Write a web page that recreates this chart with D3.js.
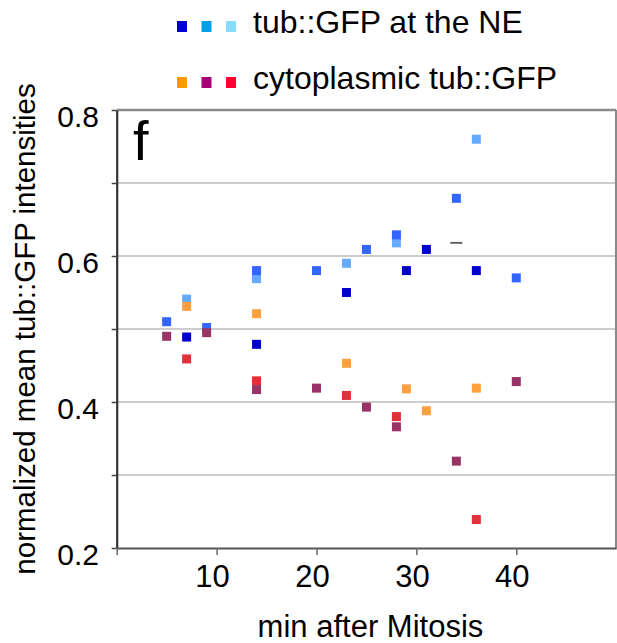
<!DOCTYPE html>
<html>
<head>
<meta charset="utf-8">
<script src="https://cdn.jsdelivr.net/npm/d3@7"></script>
<style>
  html, body { margin: 0; padding: 0; background: #fff; }
  svg { display: block; }
  text { font-family: "Liberation Sans", Arial, Helvetica, sans-serif; fill: #000; }
</style>
</head>
<body>
<svg id="chart" width="617" height="643"></svg>
<script>
// ---- data (minutes after mitosis, normalized mean intensity) ----
const neDarkBlue  = [[7,0.489],[14,0.479],[23,0.550],[29,0.580],[31,0.609],[36,0.580]];
const neMedBlue   = [[5,0.510],[9,0.502],[14,0.580],[20,0.580],[25,0.609],[28,0.629],[34,0.679],[40,0.570]];
const neLightBlue = [[7,0.541],[14,0.569],[23,0.590],[28,0.618],[36,0.760]];
const cytoOrange  = [[7,0.531],[14,0.521],[23,0.453],[29,0.418],[31,0.388],[36,0.419]];
const cytoRed     = [[7,0.459],[14,0.429],[23,0.409],[28,0.380],[36,0.239]];
const cytoPurple  = [[5,0.490],[9,0.495],[14,0.417],[20,0.419],[25,0.393],[28,0.366],[34,0.319],[40,0.428]];
const dashMarks   = [[34,0.618]];

const seriesNames  = ["neLightBlue","neMedBlue","neDarkBlue","cytoOrange","cytoRed","cytoPurple"];
const seriesData   = [neLightBlue, neMedBlue, neDarkBlue, cytoOrange, cytoRed, cytoPurple];
const seriesColors = ["#66AAFF","#3366FF","#0000CC","#FFA040","#E0303A","#993366"];

const legendLabels = ["tub::GFP at the NE", "cytoplasmic tub::GFP"];
const legendColors = [["#0000CC","#00A0E8","#88DDFF"],["#FF9900","#AA0077","#FF0033"]];

const xTicks      = [0,10,20,30,40];
const xTickLabels = [10,20,30,40];
const yTicks      = [0.2,0.3,0.4,0.5,0.6,0.7,0.8];
const yTickLabels = [0.2,0.4,0.6,0.8];
const yGrid       = [0.3,0.4,0.5,0.6,0.7];

const xTitle = "min after Mitosis";
const yTitle = "normalized mean tub::GFP intensities";
const panelLabel = "f";

// ---- layout ----
const svg = d3.select("#chart");
const pL = 116.7, pR = 616.2, pT = 110, pB = 548;
const x = d3.scaleLinear().domain([0,50]).range([pL, pR]);
const y = d3.scaleLinear().domain([0.2,0.8]).range([pB, pT]);

// gridlines
svg.append("g").selectAll("line").data(yGrid).join("line")
  .attr("x1", pL).attr("x2", pR)
  .attr("y1", d => y(d)).attr("y2", d => y(d))
  .attr("stroke", "#bdbdbd").attr("stroke-width", 1.6);

// frame top & right
svg.append("line").attr("x1", pL).attr("x2", pR).attr("y1", pT).attr("y2", pT)
  .attr("stroke", "#8a8a8a").attr("stroke-width", 2.5);
svg.append("line").attr("x1", pR).attr("x2", pR).attr("y1", pT).attr("y2", pB)
  .attr("stroke", "#8a8a8a").attr("stroke-width", 2.5);

// y axis
const yAxis = svg.append("g").attr("transform", `translate(${pL},0)`)
  .call(d3.axisLeft(y).tickValues(yTicks).tickSize(5).tickSizeOuter(0).tickFormat(""));
yAxis.select(".domain").attr("stroke", "#333").attr("stroke-width", 2.2);
yAxis.selectAll(".tick line").attr("stroke", "#444").attr("stroke-width", 1.5);

svg.append("g").selectAll("text").data(yTickLabels).join("text")
  .attr("x", 99).attr("y", d => y(d) + 17)
  .attr("text-anchor", "end").attr("font-size", 30)
  .text(d => d3.format(".1f")(d));

// x axis
const xAxis = svg.append("g").attr("transform", `translate(0,${pB})`)
  .call(d3.axisBottom(x).tickValues(xTicks).tickSize(7).tickSizeOuter(0).tickFormat(""));
xAxis.select(".domain").attr("stroke", "#555").attr("stroke-width", 2.2);
xAxis.selectAll(".tick line").attr("stroke", "#666").attr("stroke-width", 1.5);

svg.append("g").selectAll("text").data(xTickLabels).join("text")
  .attr("x", d => x(d) - 4).attr("y", 587)
  .attr("text-anchor", "middle").attr("font-size", 31)
  .text(d => d);

// axis titles
svg.append("text").attr("x", (pL + pR) / 2 + 4).attr("y", 637)
  .attr("text-anchor", "middle").attr("font-size", 31).text(xTitle);
svg.append("text").attr("transform", "translate(35,329) rotate(-90)")
  .attr("text-anchor", "middle").attr("font-size", 29.5).text(yTitle);

// panel label
svg.append("text").attr("x", 133).attr("y", 160).attr("font-size", 56).text(panelLabel);

// data markers
const ms = 9;
seriesData.forEach((data, i) => {
  svg.append("g").attr("class", seriesNames[i]).selectAll("rect").data(data).join("rect")
    .attr("x", d => x(d[0]) - ms / 2).attr("y", d => y(d[1]) - ms / 2)
    .attr("width", ms).attr("height", ms)
    .attr("fill", seriesColors[i]);
});
svg.append("g").selectAll("line").data(dashMarks).join("line")
  .attr("x1", d => x(d[0]) - 6).attr("x2", d => x(d[0]) + 6)
  .attr("y1", d => y(d[1])).attr("y2", d => y(d[1]))
  .attr("stroke", "#666").attr("stroke-width", 2);

// legend
const legendRowY = [33, 89];
legendLabels.forEach((lab, r) => {
  const g = svg.append("g");
  g.selectAll("rect").data(legendColors[r]).join("rect")
    .attr("x", (d, k) => 177 + k * 24.5).attr("y", legendRowY[r] - 12)
    .attr("width", 10).attr("height", 11).attr("fill", d => d);
  g.append("text").attr("x", 253).attr("y", legendRowY[r])
    .attr("font-size", 32).text(lab);
});
</script>
</body>
</html>
